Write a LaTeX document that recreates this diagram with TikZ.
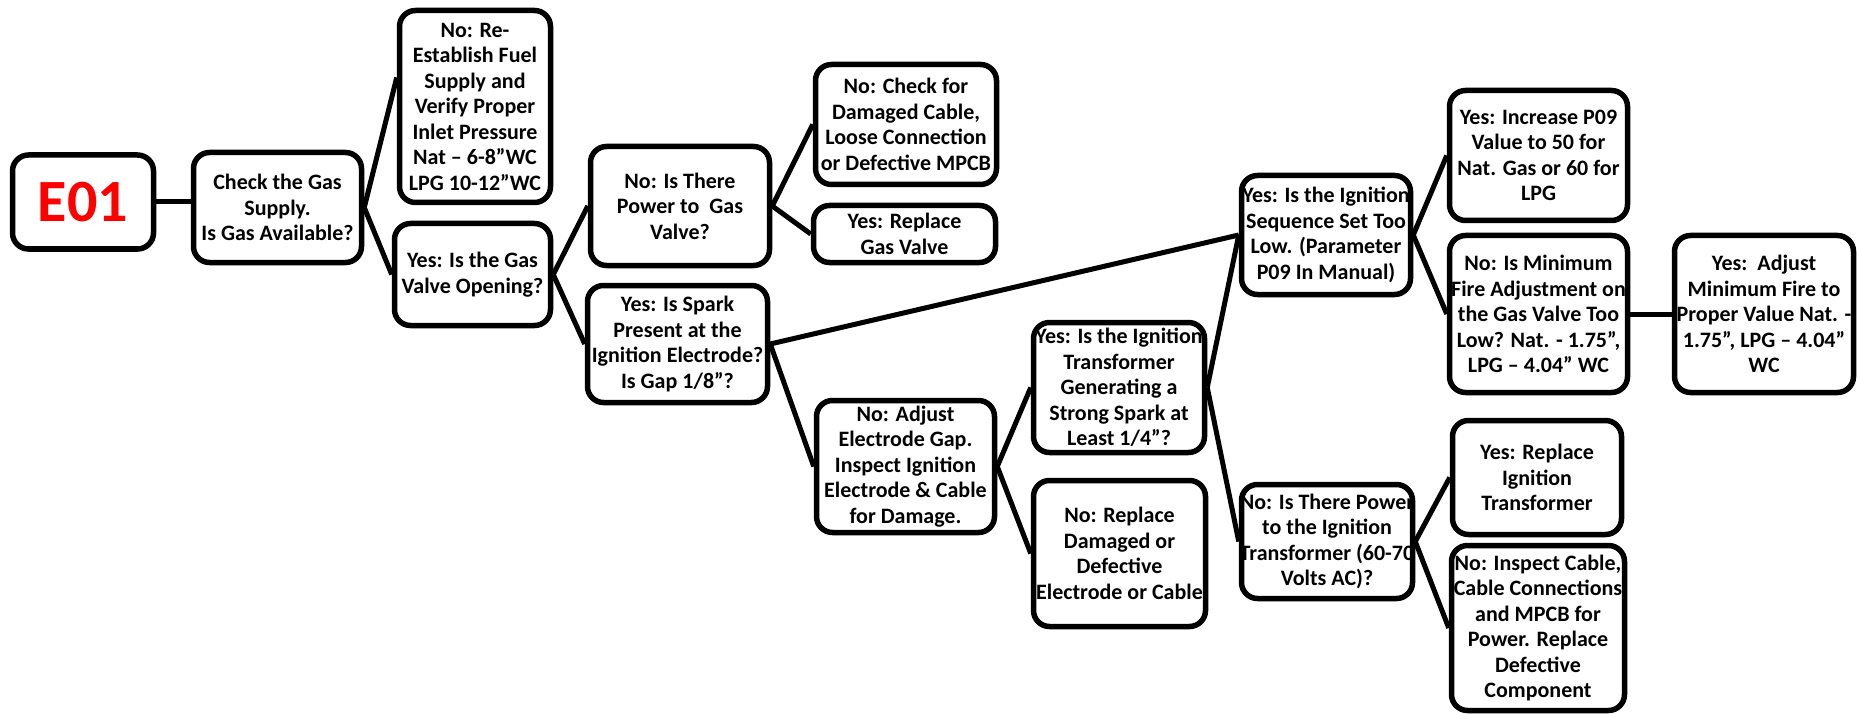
\documentclass[tikz,border=0pt]{standalone}
\usepackage{fontspec}
\setmainfont{Carlito}
\usetikzlibrary{calc}
\definecolor{e01red}{RGB}{255,0,0}
\newcommand{\fitline}[1]{\makebox[160pt]{#1}}
\tikzset{
  box/.style={draw=black, line width=5.5pt, rounded corners=16pt, fill=white,
    align=center, inner sep=0pt, font=\bfseries\fontsize{22}{25.5}\selectfont},
  conn/.style={draw=black, line width=5pt},
}
\begin{document}
\begin{tikzpicture}[x=1pt,y=-1pt]
\useasboundingbox (0,0) rectangle (1858,714);
\fill[white] (0,0) rectangle (1858,714);

\node[box, minimum width=141pt, minimum height=94pt, text=e01red,
  font=\bfseries\fontsize{60}{60}\selectfont] (e01) at (83,202) {E01};
\node[box, minimum width=168pt, minimum height=110pt] (check) at (277.5,207.5)
  {Check the Gas\\Supply.\\Is Gas Available?};
\node[box, minimum width=151pt, minimum height=192pt] (reest) at (475,106.5)
  {No: Re-\\Establish Fuel\\Supply and\\Verify Proper\\Inlet Pressure\\Nat – 6-8”WC\\LPG 10-12”WC};
\node[box, minimum width=156pt, minimum height=102pt] (gasvalve) at (472.5,274.5)
  {Yes: Is the Gas\\Valve Opening?};
\node[box, minimum width=179pt, minimum height=119pt] (power) at (680,206)
  {No: Is There\\Power to\ \ Gas\\Valve?};
\node[box, minimum width=181pt, minimum height=120pt] (damaged) at (906,124.5)
  {No: Check for\\Damaged Cable,\\Loose Connection\\or Defective MPCB};
\node[box, minimum width=182pt, minimum height=57pt] (replacegv) at (904.5,234)
  {Yes: Replace\\Gas Valve};
\node[box, minimum width=180pt, minimum height=117pt] (spark) at (677.5,344)
  {Yes: Is Spark\\Present at the\\Ignition Electrode?\\Is Gap 1/8”?};
\node[box, minimum width=178pt, minimum height=132pt] (adjust) at (905.5,466.5)
  {No: Adjust\\Electrode Gap.\\Inspect Ignition\\Electrode \& Cable\\for Damage.};
\node[box, minimum width=171pt, minimum height=130pt] (transf) at (1119,387.5)
  {\fitline{Yes: Is the Ignition}\\Transformer\\Generating a\\Strong Spark at\\Least 1/4”?};
\node[box, minimum width=172pt, minimum height=146pt] (repdamaged) at (1119.5,553.5)
  {No: Replace\\Damaged or\\Defective\\\fitline{Electrode or Cable}};
\node[box, minimum width=171pt, minimum height=114pt] (powign) at (1327,541.5)
  {\fitline{No: Is There Power}\\to the Ignition\\\fitline{Transformer (60-70}\\Volts AC)?};
\node[box, minimum width=169pt, minimum height=114pt] (repign) at (1537,477.5)
  {Yes: Replace\\Ignition\\Transformer};
\node[box, minimum width=173pt, minimum height=165pt] (inspect) at (1538,628)
  {No: Inspect Cable,\\\fitline{Cable Connections}\\and MPCB for\\Power. Replace\\Defective\\Component};
\node[box, minimum width=169pt, minimum height=119pt] (seq) at (1326,235)
  {\fitline{Yes: Is the Ignition}\\Sequence Set Too\\Low. (Parameter\\P09 In Manual)};
\node[box, minimum width=178pt, minimum height=130pt] (p09) at (1538.5,155.5)
  {Yes: Increase P09\\Value to 50 for\\Nat. Gas or 60 for\\LPG};
\node[box, minimum width=178pt, minimum height=157pt] (minfire) at (1538.5,314)
  {No: Is Minimum\\Fire Adjustment on\\the Gas Valve Too\\Low? Nat. - 1.75”,\\LPG – 4.04” WC};
\node[box, minimum width=179pt, minimum height=157pt] (adjmin) at (1764,314)
  {Yes:\ \ Adjust\\Minimum Fire to\\Proper Value Nat. -\\1.75”, LPG – 4.04”\\WC};

\draw[conn] (e01.east) -- (e01.east -| check.west);
\draw[conn] (check.east) -- ([yshift=29pt]reest.west);
\draw[conn] (check.east) -- (gasvalve.west);
\draw[conn] (gasvalve.east) -- (power.west);
\draw[conn] (gasvalve.east) -- (spark.west);
\draw[conn] (power.east) -- (damaged.west);
\draw[conn] (power.east) -- (replacegv.west);
\draw[conn] (spark.east) -- (seq.west);
\draw[conn] (spark.east) -- (adjust.west);
\draw[conn] (adjust.east) -- (transf.west);
\draw[conn] (adjust.east) -- (repdamaged.west);
\draw[conn] (transf.east) -- (seq.west);
\draw[conn] (transf.east) -- (powign.west);
\draw[conn] (seq.east) -- (p09.west);
\draw[conn] (seq.east) -- (minfire.west);
\draw[conn] (minfire.east) -- (adjmin.west);
\draw[conn] (powign.east) -- (repign.west);
\draw[conn] (powign.east) -- (inspect.west);
\end{tikzpicture}
\end{document}
